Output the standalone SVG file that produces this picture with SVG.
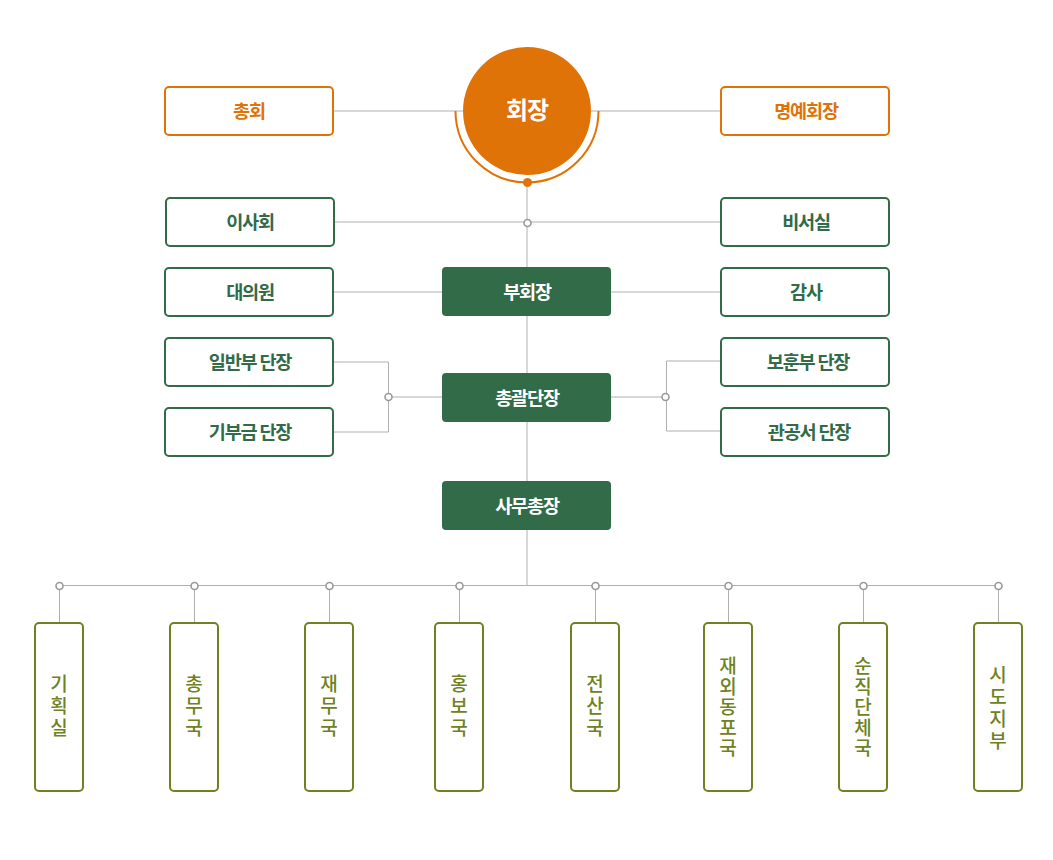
<svg xmlns="http://www.w3.org/2000/svg" width="1053" height="860" viewBox="0 0 1053 860">
<style>
.ln{stroke:#b0b0b0;stroke-width:1;fill:none}
.dot{fill:#fff;stroke:#999;stroke-width:1.6}
.ob{fill:#fff;stroke:#e07308;stroke-width:2}
.gb{fill:#fff;stroke:#326b48;stroke-width:2}
.gf{fill:#326b48}
.vb{fill:#fff;stroke:#6f8222;stroke-width:2}
text{font-family:"Noto Sans CJK KR","Noto Sans",sans-serif;text-anchor:middle;letter-spacing:-1.2px}
.ot{fill:#e07308;font-size:18.6px;font-weight:bold}
.gt{fill:#326b48;font-size:18.6px;font-weight:bold}
.wt{fill:#fff;font-size:18.6px;font-weight:bold}
.vt{fill:#6f8222;font-size:19px;font-weight:500;letter-spacing:0}
</style>
<g id="connectors">
<line class="ln" x1="333" y1="111" x2="463" y2="111"/>
<line class="ln" x1="591" y1="111" x2="721" y2="111"/>
<line class="ln" x1="527" y1="183" x2="527" y2="585"/>
<line class="ln" x1="334" y1="222" x2="721" y2="222"/>
<line class="ln" x1="333" y1="292" x2="442" y2="292"/>
<line class="ln" x1="611" y1="292" x2="721" y2="292"/>
<polyline class="ln" points="333,362 388.5,362 388.5,432 333,432"/>
<line class="ln" x1="388" y1="397" x2="442" y2="397"/>
<polyline class="ln" points="721,361 666.5,361 666.5,431 721,431"/>
<line class="ln" x1="611" y1="397" x2="666" y2="397"/>
<line class="ln" x1="59" y1="585.5" x2="998" y2="585.5"/>
<line class="ln" x1="59.5" y1="586" x2="59.5" y2="623"/>
<line class="ln" x1="194.5" y1="586" x2="194.5" y2="623"/>
<line class="ln" x1="329.5" y1="586" x2="329.5" y2="623"/>
<line class="ln" x1="459.5" y1="586" x2="459.5" y2="623"/>
<line class="ln" x1="595.5" y1="586" x2="595.5" y2="623"/>
<line class="ln" x1="728.5" y1="586" x2="728.5" y2="623"/>
<line class="ln" x1="863.5" y1="586" x2="863.5" y2="623"/>
<line class="ln" x1="998.5" y1="586" x2="998.5" y2="623"/>
<circle class="dot" cx="527.5" cy="223" r="3.5"/>
<circle class="dot" cx="388.5" cy="397" r="3.5"/>
<circle class="dot" cx="665.5" cy="397" r="3.5"/>
<circle class="dot" cx="59.5" cy="586" r="3.5"/>
<circle class="dot" cx="194.5" cy="586" r="3.5"/>
<circle class="dot" cx="329.5" cy="586" r="3.5"/>
<circle class="dot" cx="459.5" cy="586" r="3.5"/>
<circle class="dot" cx="595.5" cy="586" r="3.5"/>
<circle class="dot" cx="728.5" cy="586" r="3.5"/>
<circle class="dot" cx="863.5" cy="586" r="3.5"/>
<circle class="dot" cx="998.5" cy="586" r="3.5"/>
</g>
<g id="n-president">
<path d="M455.5,111 A71.5,71.5 0 0 0 598.5,111" fill="none" stroke="#e07308" stroke-width="2"/>
<circle cx="527" cy="111" r="64" fill="#e07308"/>
<circle cx="527.5" cy="182.5" r="4.5" fill="#e07308"/>
<text x="527" y="119" fill="#fff" style="font-size:24px;font-weight:bold">회장</text>
</g>
<g id="n-general"><rect class="ob" x="165" y="87" width="168" height="48" rx="4"/><text class="ot" x="249" y="117.5">총회</text></g>
<g id="n-honorary"><rect class="ob" x="721" y="87" width="168" height="48" rx="4"/><text class="ot" x="806" y="117.5">명예회장</text></g>
<g id="n-board"><rect class="gb" x="166" y="198" width="168" height="48" rx="4"/><text class="gt" x="250" y="228.5">이사회</text></g>
<g id="n-secretary"><rect class="gb" x="721" y="198" width="168" height="48" rx="4"/><text class="gt" x="806" y="228.5">비서실</text></g>
<g id="n-delegates"><rect class="gb" x="165" y="268" width="168" height="48" rx="4"/><text class="gt" x="250" y="298.5">대의원</text></g>
<g id="n-audit"><rect class="gb" x="721" y="268" width="168" height="48" rx="4"/><text class="gt" x="806" y="298.5">감사</text></g>
<g id="n-general-leader"><rect class="gb" x="165" y="338" width="168" height="48" rx="4"/><text class="gt" x="250" y="368.5">일반부 단장</text></g>
<g id="n-donation-leader"><rect class="gb" x="165" y="408" width="168" height="48" rx="4"/><text class="gt" x="250" y="438.5">기부금 단장</text></g>
<g id="n-veterans-leader"><rect class="gb" x="721" y="338" width="168" height="48" rx="4"/><text class="gt" x="808" y="368.5">보훈부 단장</text></g>
<g id="n-office-leader"><rect class="gb" x="721" y="408" width="168" height="48" rx="4"/><text class="gt" x="809" y="438.5">관공서 단장</text></g>
<g id="n-vice"><rect class="gf" x="442" y="267" width="169" height="49" rx="4"/><text class="wt" x="527" y="298.5">부회장</text></g>
<g id="n-chief-leader"><rect class="gf" x="442" y="373" width="169" height="49" rx="4"/><text class="wt" x="527" y="404.5">총괄단장</text></g>
<g id="n-secgen"><rect class="gf" x="442" y="481" width="169" height="49" rx="4"/><text class="wt" x="527" y="512.5">사무총장</text></g>
<g id="n-planning"><rect class="vb" x="35" y="623" width="48" height="168" rx="4"/><text class="vt" x="59"><tspan x="59" y="691">기</tspan><tspan x="59" y="713">획</tspan><tspan x="59" y="735">실</tspan></text></g>
<g id="n-admin"><rect class="vb" x="170" y="623" width="48" height="168" rx="4"/><text class="vt" x="194"><tspan x="194" y="691">총</tspan><tspan x="194" y="713">무</tspan><tspan x="194" y="735">국</tspan></text></g>
<g id="n-finance"><rect class="vb" x="305" y="623" width="48" height="168" rx="4"/><text class="vt" x="329"><tspan x="329" y="691">재</tspan><tspan x="329" y="713">무</tspan><tspan x="329" y="735">국</tspan></text></g>
<g id="n-pr"><rect class="vb" x="435" y="623" width="48" height="168" rx="4"/><text class="vt" x="459"><tspan x="459" y="691">홍</tspan><tspan x="459" y="713">보</tspan><tspan x="459" y="735">국</tspan></text></g>
<g id="n-it"><rect class="vb" x="571" y="623" width="48" height="168" rx="4"/><text class="vt" x="595"><tspan x="595" y="691">전</tspan><tspan x="595" y="713">산</tspan><tspan x="595" y="735">국</tspan></text></g>
<g id="n-overseas"><rect class="vb" x="704" y="623" width="48" height="168" rx="4"/><text class="vt" x="728"><tspan x="728" y="673">재</tspan><tspan x="728" y="693.5">외</tspan><tspan x="728" y="714">동</tspan><tspan x="728" y="734.5">포</tspan><tspan x="728" y="755">국</tspan></text></g>
<g id="n-fallen"><rect class="vb" x="839" y="623" width="48" height="168" rx="4"/><text class="vt" x="863"><tspan x="863" y="673">순</tspan><tspan x="863" y="693.5">직</tspan><tspan x="863" y="714">단</tspan><tspan x="863" y="734.5">체</tspan><tspan x="863" y="755">국</tspan></text></g>
<g id="n-branches"><rect class="vb" x="974" y="623" width="48" height="168" rx="4"/><text class="vt" x="998"><tspan x="998" y="682">시</tspan><tspan x="998" y="704">도</tspan><tspan x="998" y="726">지</tspan><tspan x="998" y="748">부</tspan></text></g>
</svg>
